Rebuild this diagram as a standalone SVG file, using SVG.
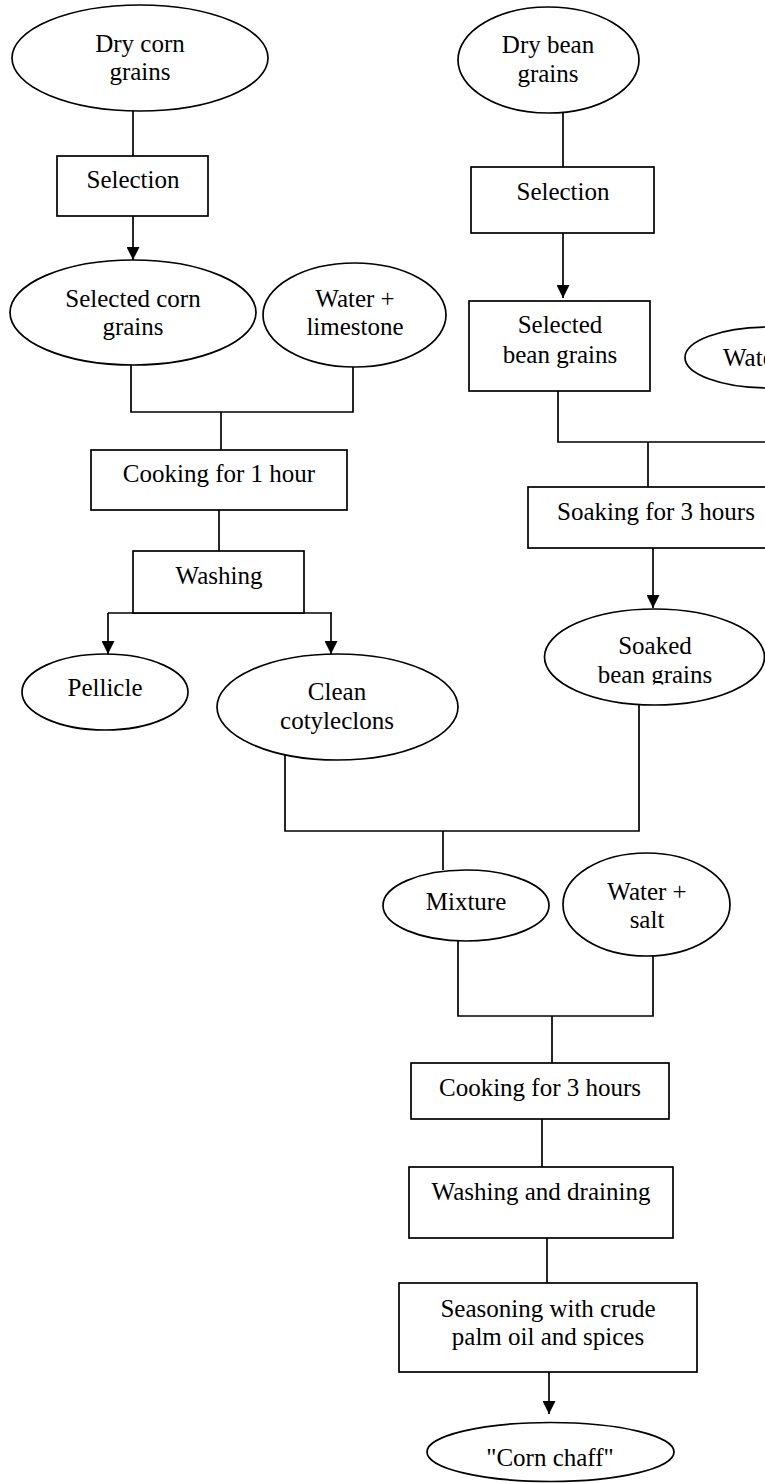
<svg xmlns="http://www.w3.org/2000/svg" width="765" height="1483" viewBox="0 0 765 1483">
<style>
.n{fill:#fff;stroke:#000;stroke-width:1.7}
.t{font-family:"Liberation Serif","Times New Roman",serif;font-size:25px;fill:#000;text-anchor:middle}
.ts{font-family:"Liberation Serif","Times New Roman",serif;font-size:25px;fill:#000;text-anchor:start}
.c{fill:none;stroke:#000;stroke-width:1.7}
</style>
<defs>
<marker id="ah" markerUnits="userSpaceOnUse" markerWidth="13" markerHeight="13" refX="13" refY="6.5" orient="auto"><path d="M0,0 L13,6.5 L0,13 z" fill="#000"/></marker>
<clipPath id="clipSoaked"><rect x="540" y="600" width="230" height="84.5"/></clipPath>
</defs>
<rect width="765" height="1483" fill="#fff"/>
<g id="connectors">
<path class="c" d="M133,111 V156"/>
<path class="c" d="M133,216 V260" marker-end="url(#ah)"/>
<path class="c" d="M563,113 V167"/>
<path class="c" d="M563,233 V298" marker-end="url(#ah)"/>
<path class="c" d="M131,365 V412 H353 V367"/>
<path class="c" d="M221,412 V450"/>
<path class="c" d="M219,510 V551"/>
<path class="c" d="M108,613 H332"/>
<path class="c" d="M108,613 V654" marker-end="url(#ah)"/>
<path class="c" d="M331,613 V654" marker-end="url(#ah)"/>
<path class="c" d="M558,391 V442 H766"/>
<path class="c" d="M648,442 V487"/>
<path class="c" d="M653,548 V608" marker-end="url(#ah)"/>
<path class="c" d="M285,755 V831 H639 V705"/>
<path class="c" d="M443,831 V870"/>
<path class="c" d="M458,941 V1016 H653 V956"/>
<path class="c" d="M552,1016 V1063"/>
<path class="c" d="M542,1119 V1167"/>
<path class="c" d="M547,1238 V1283"/>
<path class="c" d="M549,1372 V1414" marker-end="url(#ah)"/>
</g>
<g id="dry-corn"><ellipse class="n" cx="140" cy="58" rx="128" ry="53"/><text class="t" x="140" y="52">Dry corn</text><text class="t" x="140" y="80">grains</text></g>
<g id="selection-corn"><rect class="n" x="57" y="156" width="151" height="60"/><text class="t" x="133" y="188">Selection</text></g>
<g id="selected-corn"><ellipse class="n" cx="133" cy="312.5" rx="123" ry="52.5"/><text class="t" x="133" y="307">Selected corn</text><text class="t" x="133" y="335">grains</text></g>
<g id="water-limestone"><ellipse class="n" cx="354.5" cy="315" rx="91.5" ry="52"/><text class="t" x="355" y="307">Water +</text><text class="t" x="355" y="335">limestone</text></g>
<g id="cooking-1h"><rect class="n" x="91" y="450" width="256" height="60"/><text class="t" x="219" y="482">Cooking for 1 hour</text></g>
<g id="washing"><rect class="n" x="133" y="551" width="171" height="62"/><text class="t" x="219" y="584">Washing</text></g>
<g id="pellicle"><ellipse class="n" cx="105" cy="692" rx="83" ry="38"/><text class="t" x="105" y="696">Pellicle</text></g>
<g id="clean-cotyledons"><ellipse class="n" cx="337.5" cy="707" rx="120.5" ry="53"/><text class="t" x="337" y="700">Clean</text><text class="t" x="337" y="729">cotyleclons</text></g>
<g id="dry-bean"><ellipse class="n" cx="548.5" cy="60" rx="90.5" ry="53"/><text class="t" x="548" y="53">Dry bean</text><text class="t" x="548" y="82">grains</text></g>
<g id="selection-bean"><rect class="n" x="471" y="167" width="183" height="66"/><text class="t" x="563" y="200">Selection</text></g>
<g id="selected-bean"><rect class="n" x="469" y="301" width="181" height="90"/><text class="t" x="560" y="333">Selected</text><text class="t" x="560" y="363">bean grains</text></g>
<g id="water-right"><ellipse class="n" cx="768" cy="357.5" rx="83" ry="30.5"/><text class="ts" x="723" y="366">Water</text></g>
<g id="soaking"><rect class="n" x="528" y="487" width="260" height="61"/><text class="ts" x="557" y="520">Soaking for 3 hours</text></g>
<g id="soaked-bean"><ellipse class="n" cx="654.5" cy="657" rx="110" ry="48"/><g clip-path="url(#clipSoaked)"><text class="t" x="655" y="654">Soaked</text><text class="t" x="655" y="683">bean grains</text></g></g>
<g id="mixture"><ellipse class="n" cx="466" cy="905.5" rx="83" ry="35.5"/><text class="t" x="466" y="910">Mixture</text></g>
<g id="water-salt"><ellipse class="n" cx="646.5" cy="904.5" rx="83.5" ry="51.5"/><text class="t" x="647" y="900">Water +</text><text class="t" x="647" y="928">salt</text></g>
<g id="cooking-3h"><rect class="n" x="411" y="1063" width="258" height="56"/><text class="t" x="540" y="1096">Cooking for 3 hours</text></g>
<g id="washing-draining"><rect class="n" x="409" y="1167" width="264" height="71"/><text class="t" x="541" y="1200">Washing and draining</text></g>
<g id="seasoning"><rect class="n" x="399" y="1283" width="298" height="89"/><text class="t" x="548" y="1317">Seasoning with crude</text><text class="t" x="548" y="1345">palm oil and spices</text></g>
<g id="corn-chaff"><ellipse class="n" cx="550.5" cy="1452" rx="123.5" ry="29.5"/><text class="t" x="550" y="1466">"Corn chaff"</text></g>
</svg>
